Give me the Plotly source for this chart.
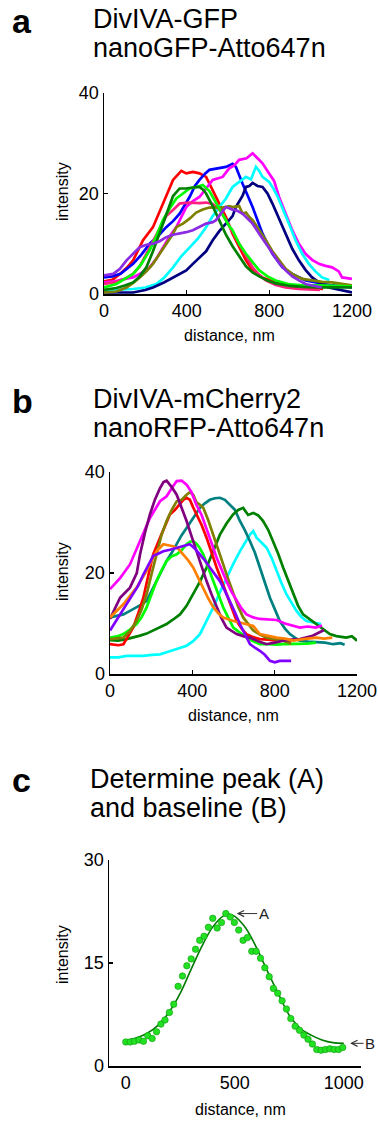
import plotly.graph_objects as go

# ---------------- Panel a data ----------------
a_colors = ["#FF0000", "#0000FF", "#FF00FF", "#00FFFF", "#000080", "#FF2080", "#808000", "#00FF00", "#008000", "#8B2BE2"]

a_red_x = [0, 40, 77, 110, 141, 189, 237, 285, 334, 374, 398, 430, 462, 494, 526, 558, 590, 622, 655, 687, 719, 767, 831, 900, 960, 1060]
a_red_y = [2.5, 2.8, 4, 5.2, 6.7, 10.7, 13.3, 18, 22.7, 24.5, 24, 24.3, 24, 23.3, 20.7, 18, 15.3, 12, 9.3, 6.7, 4.7, 3.3, 2.3, 1.6, 1.2, 1]

a_blue_x = [0, 40, 80, 141, 180, 221, 261, 301, 334, 366, 414, 440, 462, 490, 510, 558, 590, 622, 638, 670, 719, 767, 815, 863, 911, 975, 1040, 1104, 1200]
a_blue_y = [3.3, 3.5, 4, 6, 7.8, 10, 11.5, 13.3, 14.5, 16, 19.3, 21.5, 22.7, 24, 24.7, 25, 25.3, 25.9, 25.3, 22, 17.3, 12, 8, 5.3, 4, 2.7, 2.2, 1.7, 1.3]

a_magenta_x = [0, 50, 100, 141, 181, 221, 253, 285, 318, 350, 398, 430, 462, 494, 526, 574, 606, 630, 654, 690, 719, 743, 767, 799, 823, 847, 879, 911, 943, 975, 1007, 1040, 1072, 1104, 1136, 1152, 1200]
a_magenta_y = [2.3, 2.5, 3, 3.3, 4.2, 5.3, 7, 9.3, 11.5, 13.3, 17.3, 18.5, 19.3, 21, 22.7, 23.3, 25, 25.6, 26.7, 27, 28, 27, 26, 24, 22.5, 19.3, 16, 12.7, 10, 8, 6.8, 6, 5.6, 5.3, 4.5, 3.3, 3]

a_cyan_x = [0, 80, 141, 200, 253, 290, 334, 374, 414, 454, 494, 526, 558, 590, 622, 654, 687, 711, 735, 751, 767, 799, 815, 839, 863, 895, 927, 959, 991, 1023, 1055, 1090]
a_cyan_y = [0.7, 0.8, 1, 1.3, 2, 3.2, 5.3, 7.5, 9.3, 11, 13.3, 15.5, 17.3, 19, 21.3, 22.2, 23.3, 22.8, 25.3, 24.5, 23.3, 22.3, 21.3, 19.5, 17.3, 14, 10.7, 8, 6, 4.5, 3.3, 2.8]

a_navy_x = [0, 100, 141, 200, 237, 290, 334, 366, 398, 430, 462, 494, 526, 558, 590, 622, 638, 670, 687, 703, 719, 743, 767, 791, 815, 847, 879, 911, 943, 975, 1007, 1040, 1088, 1140, 1200]
a_navy_y = [0.3, 0.3, 0.3, 0.8, 1.3, 2.3, 3.3, 4, 4.7, 6, 7.3, 8.5, 10.7, 12.5, 14, 15.5, 17.3, 19.5, 21.3, 21.5, 22.1, 21.5, 21.3, 20, 18, 15, 12, 9, 6.7, 4.8, 3.3, 2.3, 1.3, 0.8, 0.3]

a_pink_x = [0, 50, 100, 141, 173, 205, 237, 269, 301, 334, 366, 382, 414, 462, 494, 526, 558, 590, 622, 654, 687, 719, 751, 783, 831, 879, 940, 1000, 1045]
a_pink_y = [2, 2.3, 3, 4, 5.5, 8, 10.5, 13.3, 15.5, 16.7, 18, 18.1, 18.2, 18.1, 18.2, 17.9, 16.8, 14.7, 12.3, 10, 7.5, 5.3, 3.8, 2.7, 1.8, 1.3, 1, 0.8, 0.8]

a_olive_x = [0, 60, 109, 141, 173, 205, 237, 269, 301, 334, 350, 382, 414, 446, 478, 510, 542, 574, 606, 622, 654, 670, 687, 703, 719, 751, 783, 815, 847, 879, 911, 959, 1007, 1055, 1104, 1150, 1200]
a_olive_y = [0.3, 0.5, 1.3, 2.2, 3.3, 4.5, 6, 8, 10, 12, 13.3, 14, 15, 16.2, 16.8, 17.2, 17.3, 17.2, 17.5, 17.3, 17.5, 16, 16.2, 15.3, 14.7, 12.8, 10.7, 8.5, 6.7, 5, 4, 3, 2.7, 2.4, 2.3, 2, 1.7]

a_lime_x = [0, 60, 100, 141, 181, 221, 253, 285, 318, 350, 382, 414, 446, 478, 510, 526, 558, 574, 606, 622, 654, 687, 719, 751, 791, 831, 900, 960, 1040, 1120, 1200]
a_lime_y = [1.3, 2, 3, 4, 6, 8.7, 11.5, 14.7, 17, 19, 20, 21, 21.3, 21.7, 20.5, 19.3, 17, 16, 13.5, 12.7, 10, 8, 6.3, 4.7, 3.5, 2.7, 1.9, 1.7, 1.7, 1.6, 1.5]

a_darkgreen_x = [0, 60, 100, 141, 173, 205, 237, 269, 301, 334, 366, 398, 430, 462, 478, 494, 526, 558, 590, 622, 654, 687, 719, 751, 791, 831, 900, 960, 1040, 1104, 1200]
a_darkgreen_y = [0.8, 1.2, 1.7, 2.3, 3.5, 5.3, 8.5, 12, 15.5, 19.5, 21, 21, 21.2, 21.3, 20.8, 20, 17.5, 14.5, 11.8, 9.5, 7.5, 5.5, 4.3, 3.5, 2.7, 2.1, 1.6, 1.4, 1.3, 1.3, 1.3]

a_purple_x = [0, 45, 77, 109, 141, 173, 205, 237, 269, 301, 334, 366, 398, 430, 462, 494, 526, 542, 574, 590, 622, 638, 670, 687, 719, 751, 783, 815, 847, 879, 911, 943, 975, 1007, 1055]
a_purple_y = [3.7, 4, 5, 6.7, 8, 9.3, 9.8, 10, 10.5, 11.3, 11.8, 12, 12.3, 12.7, 13.3, 14, 14.3, 14.7, 16.5, 17.3, 16.8, 16.7, 16, 15.3, 14, 12, 10, 8, 6.2, 4.7, 3.5, 2.7, 2, 1.7, 1.3]

a_series = [
    (a_red_x, a_red_y), (a_blue_x, a_blue_y), (a_magenta_x, a_magenta_y), (a_cyan_x, a_cyan_y),
    (a_navy_x, a_navy_y), (a_pink_x, a_pink_y), (a_olive_x, a_olive_y), (a_lime_x, a_lime_y),
    (a_darkgreen_x, a_darkgreen_y), (a_purple_x, a_purple_y),
]

# ---------------- Panel b data ----------------
b_colors = ["#00FFFF", "#008080", "#008000", "#00FF00", "#FF0000", "#808000", "#FF00FF", "#800080", "#FF8000", "#8000FF"]

b_cyan_x = [0, 40, 81, 121, 162, 202, 243, 275, 307, 340, 372, 404, 437, 469, 502, 534, 566, 599, 631, 655, 680, 696, 712, 737, 761, 785, 809, 833, 857, 882, 906, 930, 954, 990, 1025]
b_cyan_y = [3.3, 3.3, 3.6, 3.6, 3.6, 3.8, 3.9, 4.3, 4.7, 5.1, 5.6, 6.5, 7.9, 10.5, 13.2, 16.2, 19.1, 21.8, 24.3, 26, 27.6, 28.3, 27, 26, 25, 23, 20.4, 18, 15.8, 14, 12.5, 11.3, 10.5, 10.2, 9.9]

b_teal_x = [0, 33, 65, 97, 129, 154, 178, 202, 226, 250, 275, 300, 324, 348, 372, 404, 437, 461, 485, 510, 534, 558, 582, 607, 631, 655, 680, 704, 728, 752, 777, 801, 825, 850, 874, 898, 922, 962, 1003, 1044, 1084, 1120, 1140]
b_teal_y = [11.2, 11.5, 11.8, 12.5, 13.2, 13.8, 14.5, 16.5, 18.4, 20.5, 22.4, 24, 25.7, 27.5, 28.9, 31, 32.9, 33.8, 34.5, 34.8, 34.9, 34.5, 33.6, 32.5, 30.3, 28.5, 26.3, 24, 21.1, 18, 15.1, 12.8, 10.5, 9, 7.9, 7.2, 6.6, 6.4, 6.3, 6.2, 5.9, 6.1, 5.8]

b_darkgreen_x = [0, 40, 81, 113, 146, 178, 210, 243, 275, 307, 340, 372, 404, 437, 469, 502, 534, 566, 598, 623, 647, 671, 696, 720, 744, 769, 793, 817, 841, 866, 890, 914, 938, 970, 1003, 1036, 1068, 1100, 1148, 1175, 1200]
b_darkgreen_y = [6.7, 6.6, 6.9, 7.2, 7.6, 8, 8.6, 9.2, 9.9, 10.8, 11.8, 13.5, 15.8, 18.3, 21.1, 24.5, 27.6, 29.8, 31.6, 32.5, 32.9, 31.5, 31.9, 31.4, 30.3, 28.5, 26.3, 23.8, 21.1, 18.5, 15.8, 13.5, 11.8, 10.8, 9.9, 8.8, 7.9, 7.5, 7.2, 7.5, 6.6]

b_lime_x = [0, 40, 65, 97, 129, 154, 178, 202, 226, 250, 275, 300, 324, 348, 372, 388, 404, 420, 437, 453, 477, 502, 526, 550, 574, 599, 631, 663, 696, 728, 769, 809, 841, 880, 922, 960, 1000]
b_lime_y = [7.2, 7.5, 7.9, 8.8, 9.9, 11.3, 13.2, 15.8, 18.4, 20.5, 22.4, 23.3, 23.7, 24.5, 25.7, 26.2, 26.3, 25.8, 24.9, 23.7, 21.2, 18.4, 15.8, 13.2, 11.2, 9.2, 8.2, 7.2, 6.5, 5.9, 5.9, 5.8, 5.9, 5.9, 5.9, 6, 6.2]

b_red_x = [0, 40, 65, 89, 113, 137, 162, 186, 210, 243, 267, 291, 316, 340, 356, 372, 388, 404, 420, 445, 469, 493, 518, 542, 566, 590, 615, 639, 663, 696, 728, 769, 809, 850, 880]
b_red_y = [5.9, 5.7, 5.9, 7.5, 9.2, 12, 15.1, 19.5, 23.7, 27, 29.5, 31.6, 32.5, 33.6, 34.5, 34.9, 34.5, 33, 31.6, 29.5, 27, 24, 21.1, 18.5, 15.8, 13, 10.5, 9, 7.9, 7.3, 6.9, 6.8, 6.6, 6.7, 6.6]

b_olive_x = [0, 40, 65, 97, 129, 154, 178, 202, 226, 250, 275, 300, 324, 348, 372, 388, 404, 420, 437, 453, 477, 502, 526, 550, 574, 599, 623, 647, 672, 696, 728, 761, 800, 841, 880]
b_olive_y = [6.9, 7, 7.2, 8.5, 10.5, 12.8, 15.8, 19.8, 23.7, 27.5, 30.3, 32.5, 34.2, 34.5, 35.5, 36, 35.5, 34, 33.5, 32.9, 30.5, 27.6, 24.5, 21.7, 18.8, 15.8, 13.3, 11.2, 9.8, 8.6, 7.8, 7.2, 6.9, 6.6, 6]

b_magenta_x = [0, 49, 97, 146, 194, 243, 275, 300, 324, 348, 372, 396, 420, 445, 469, 493, 518, 542, 566, 590, 615, 639, 663, 696, 728, 769, 809, 850, 890, 922, 960, 1000, 1030]
b_magenta_y = [16.8, 19, 21.7, 26.3, 30.9, 34.2, 35.2, 36.8, 38.2, 38.3, 37.5, 36, 33.5, 31.5, 28.9, 26, 23, 20.5, 18.4, 16.3, 14.5, 13, 11.8, 11.2, 10.9, 10.8, 10.7, 10, 9.6, 9.2, 9.4, 9.2, 9.6]

b_purple_x = [0, 49, 97, 130, 146, 170, 194, 218, 243, 260, 275, 300, 324, 348, 372, 396, 420, 445, 469, 493, 518, 542, 566, 590, 615, 647, 680, 720, 761, 800, 841, 880, 922, 980, 1040]
b_purple_y = [10.9, 15.1, 17.1, 20, 23.7, 28, 31.6, 34.5, 36.8, 38, 38.3, 37, 35.5, 33, 30.3, 27.3, 24.3, 21.3, 18.4, 15.8, 13.2, 11, 9.2, 8.5, 7.9, 7.5, 7.2, 6.5, 5.9, 6.2, 6.6, 6.8, 6.9, 7.5, 8.7]

b_orange_x = [0, 33, 65, 97, 129, 154, 178, 202, 226, 243, 259, 283, 307, 332, 356, 380, 404, 428, 453, 477, 502, 526, 550, 574, 599, 631, 663, 696, 728, 769, 809, 850, 890, 940, 1003, 1040, 1080]
b_orange_y = [11.2, 12.5, 13.8, 15.5, 17.1, 18.8, 20.4, 22.5, 24.3, 25, 25.7, 25.5, 25.3, 24.8, 23.7, 22.5, 21.1, 19, 17.1, 15, 13.2, 12, 11.2, 10.8, 10.5, 10.2, 9.9, 9.5, 7.9, 7.5, 7.2, 7, 6.6, 6.9, 7.2, 7, 7.2]

b_violet_x = [0, 49, 81, 113, 137, 162, 186, 210, 234, 259, 291, 324, 356, 388, 413, 437, 461, 485, 510, 534, 558, 582, 607, 631, 655, 680, 704, 728, 752, 777, 801, 825, 850, 880]
b_violet_y = [8.6, 11.8, 13.8, 15.8, 17.5, 19.7, 21.5, 23.4, 23.8, 24.3, 24.6, 25, 25.3, 25.7, 24.8, 23.7, 22.5, 21.1, 19.8, 18.4, 16.5, 14.5, 12.2, 9.9, 7.8, 5.9, 5.2, 4.6, 3.8, 2.6, 2.3, 2.6, 2.6, 2.6]

b_series = [
    (b_cyan_x, b_cyan_y), (b_teal_x, b_teal_y), (b_darkgreen_x, b_darkgreen_y), (b_lime_x, b_lime_y),
    (b_red_x, b_red_y), (b_olive_x, b_olive_y), (b_magenta_x, b_magenta_y), (b_purple_x, b_purple_y),
    (b_orange_x, b_orange_y), (b_violet_x, b_violet_y),
]

# ---------------- Panel c data ----------------
c_dot_x = [0, 20, 40, 61, 81, 101, 121, 141, 161, 180, 200, 220, 240, 260, 280, 300, 320, 339, 359, 379,
           399, 419, 439, 459, 479, 498, 518, 538, 558, 578, 598, 618, 638, 658, 677, 697, 717, 737, 757,
           777, 797, 817, 836, 856, 876, 896, 916, 936, 956, 976, 995]
c_dot_y = [3.5, 3.5, 3.6, 3.8, 3.6, 4.4, 4.0, 5.0, 6.1, 6.7, 7.8, 9.0, 11.6, 13.1, 14.6, 15.6, 17.0, 18.3, 18.9, 20.2,
           21.5, 20.1, 20.9, 22.2, 21.7, 20.9, 19.8, 18.3, 18.7, 16.7, 16.7, 15.7, 14.3, 13.0, 11.3, 10.6, 9.5, 8.3, 6.9,
           5.8, 5.2, 4.5, 3.9, 3.2, 2.4, 2.3, 2.4, 2.5, 2.4, 2.4, 2.7]
c_fit_x = [0, 50, 100, 150, 200, 250, 300, 350, 400, 450, 475, 500, 550, 600, 650, 700, 750, 800, 850, 900, 950, 1000]
c_fit_y = [3.7, 4.1, 4.8, 6.0, 7.9, 10.6, 14.1, 17.5, 20.3, 21.9, 22.1, 21.8, 20.1, 17.2, 13.8, 10.5, 7.4, 5.5, 4.5, 3.8, 3.4, 3.3]

FONT = "Liberation Sans, Arial, Helvetica, sans-serif"
W, H = 378, 1124

fig = go.Figure()

for (xs, ys), col in zip(a_series, a_colors):
    fig.add_trace(go.Scatter(x=xs, y=ys, mode="lines", line=dict(color=col, width=2.7),
                             xaxis="x", yaxis="y", showlegend=False, hoverinfo="skip"))
for (xs, ys), col in zip(b_series, b_colors):
    fig.add_trace(go.Scatter(x=xs, y=ys, mode="lines", line=dict(color=col, width=2.7),
                             xaxis="x2", yaxis="y2", showlegend=False, hoverinfo="skip"))
fig.add_trace(go.Scatter(x=c_fit_x, y=c_fit_y, mode="lines", line=dict(color="#007A00", width=1.6, shape="spline"),
                         xaxis="x3", yaxis="y3", showlegend=False, hoverinfo="skip"))
fig.add_trace(go.Scatter(x=c_dot_x, y=c_dot_y, mode="markers",
                         marker=dict(color="#22E022", size=6.5, line=dict(color="#119911", width=0.6)),
                         xaxis="x3", yaxis="y3", showlegend=False, hoverinfo="skip"))

def px_x(p):
    return p / W

def px_y(p):
    return 1 - p / H

axis_common = dict(showline=True, linecolor="black", linewidth=1.5, showgrid=False, zeroline=False,
                   automargin=False,
                   ticks="inside", ticklen=4, tickwidth=1.5, tickcolor="black",
                   tickfont=dict(family=FONT, size=18, color="black"))

fig.update_layout(
    template="none",
    width=W, height=H, margin=dict(l=0, r=0, t=0, b=0, pad=0), autosize=False,
    paper_bgcolor="white", plot_bgcolor="white",
    xaxis=dict(domain=[px_x(104), px_x(352)], range=[0, 1200], tickvals=[0, 400, 800, 1200], anchor="y", **axis_common),
    yaxis=dict(domain=[px_y(294), px_y(93)], range=[0, 40], tickvals=[0, 20, 40], anchor="x", **axis_common),
    xaxis2=dict(domain=[px_x(110), px_x(357)], range=[0, 1200], tickvals=[0, 400, 800, 1200], anchor="y2", **axis_common),
    yaxis2=dict(domain=[px_y(674), px_y(472)], range=[0, 40], tickvals=[0, 20, 40], anchor="x2", **axis_common),
    xaxis3=dict(domain=[px_x(109), px_x(361)], range=[-77, 1079], tickvals=[0, 500, 1000], anchor="y3",
                **{**axis_common, "ticks": ""}),
    yaxis3=dict(domain=[px_y(1066), px_y(860)], range=[0, 30], tickvals=[0, 15, 30], anchor="x3", **axis_common),
)

ann = []
def text(x, y, s, size, bold=False, angle=0, xanchor="left"):
    ann.append(dict(x=px_x(x), y=px_y(y), xref="paper", yref="paper", text=("<b>%s</b>" % s) if bold else s,
                    showarrow=False, xanchor=xanchor, yanchor="middle", textangle=angle,
                    font=dict(family=FONT, size=size, color="black")))

# panel letters
text(10, 21, "a", 34, bold=True)
text(10, 401, "b", 34, bold=True)
text(10, 780, "c", 34, bold=True)
# titles
text(91, 19, "DivIVA-GFP", 27)
text(91, 48, "nanoGFP-Atto647n", 27)
text(91, 399, "DivIVA-mCherry2", 27)
text(91, 428, "nanoRFP-Atto647n", 27)
text(88, 779, "Determine peak (A)", 27)
text(88, 808, "and baseline (B)", 27)
# axis titles
text(62, 192, "intensity", 16, angle=-90, xanchor="center")
text(62, 572, "intensity", 16, angle=-90, xanchor="center")
text(62, 955, "intensity", 16, angle=-90, xanchor="center")
text(229, 336, "distance, nm", 16, xanchor="center")
text(233, 715, "distance, nm", 16, xanchor="center")
text(240, 1109, "distance, nm", 16, xanchor="center")

# arrows in panel c
ann.append(dict(x=509, y=22.2, xref="x3", yref="y3", text="A", showarrow=True, arrowhead=5, arrowsize=1.2,
                arrowwidth=1, arrowcolor="#333333", ax=27, ay=0, font=dict(family=FONT, size=15, color="#222222")))
ann.append(dict(x=1029, y=3.3, xref="x3", yref="y3", text="B", showarrow=True, arrowhead=5, arrowsize=1.2,
                arrowwidth=1, arrowcolor="#333333", ax=20, ay=0, font=dict(family=FONT, size=15, color="#222222")))

fig.update_layout(annotations=ann)
fig.write_html("out.html", config={"displayModeBar": False, "staticPlot": True},
               post_script="document.body.style.margin='0';document.body.style.padding='0';"
                           "document.body.style.overflow='hidden';")
